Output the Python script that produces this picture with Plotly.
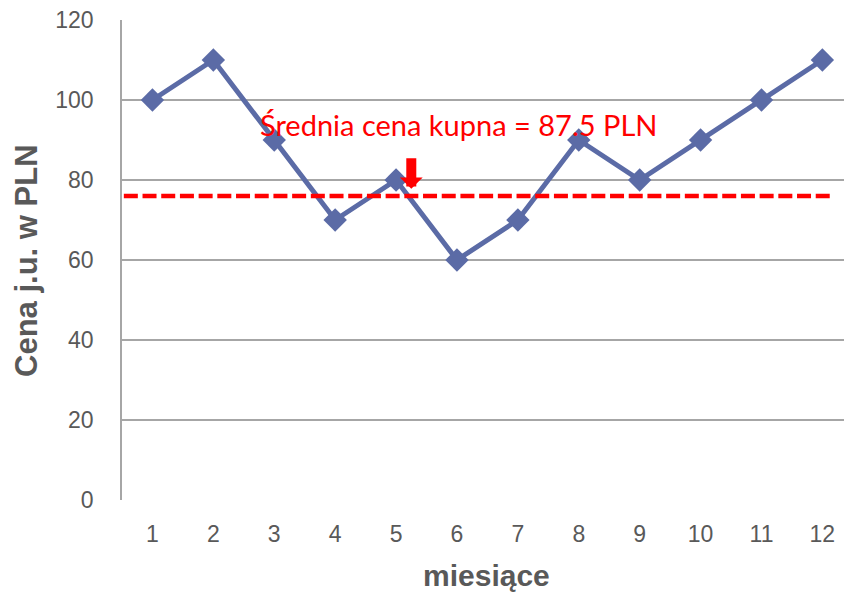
import plotly.graph_objects as go

months = list(range(1, 13))
prices = [100, 110, 90, 70, 80, 60, 70, 90, 80, 90, 100, 110]
avg_line_value = 76
avg_label = "Średnia cena kupna = 87.5 PLN"
y_ticks = [0, 20, 40, 60, 80, 100, 120]
x_title = "miesiące"
y_title = "Cena j.u. w PLN"

line_color = "#5b6ba6"
grid_color = "#a6a6a6"
tick_color = "#595959"

fig = go.Figure()
fig.add_trace(go.Scatter(
    x=months, y=prices, mode="lines+markers",
    line=dict(color=line_color, width=5),
    marker=dict(symbol="diamond", size=18, color=line_color),
    cliponaxis=False, showlegend=False,
))

fig.add_shape(type="line", xref="x", yref="y", x0=0.53, x1=12.16,
              y0=avg_line_value, y1=avg_line_value,
              line=dict(color="#ff0000", width=4.5, dash="14px,4.7px"))

fig.add_annotation(x=6.02, y=93.8, xref="x", yref="y", text=avg_label,
                   showarrow=False, font=dict(family="Lato", size=29, color="#ff0000"))
fig.add_annotation(x=5.25, y=77.8, ax=5.25, ay=85.8, xref="x", yref="y",
                   axref="x", ayref="y", text="", showarrow=True,
                   arrowhead=1, arrowwidth=10, arrowsize=0.38, arrowcolor="#ff0000")

fig.add_annotation(x=-0.133, y=0.5, xref="paper", yref="paper", text=f"<b>{y_title}</b>",
                   textangle=-90, showarrow=False, xanchor="center", yanchor="middle",
                   font=dict(family="Liberation Sans", size=31, color=tick_color))
fig.add_annotation(x=0.5055, y=-0.158, xref="paper", yref="paper", text=f"<b>{x_title}</b>",
                   showarrow=False, xanchor="center", yanchor="middle",
                   font=dict(family="Liberation Sans", size=30, color=tick_color))

fig.update_layout(
    width=844, height=594,
    margin=dict(l=122, r=0, t=20, b=94),
    paper_bgcolor="white", plot_bgcolor="white",
    xaxis=dict(range=[0.5, 12.355], tickvals=months, showgrid=False, zeroline=False,
               showline=False, ticks="", ticklabelstandoff=18,
               tickfont=dict(family="Liberation Sans", size=23, color=tick_color)),
    yaxis=dict(range=[0, 120], tickvals=y_ticks, showgrid=True, gridcolor=grid_color,
               gridwidth=1.5, zeroline=False, showline=True, linecolor=grid_color,
               linewidth=1.5, ticks="", ticklabelstandoff=22,
               tickfont=dict(family="Liberation Sans", size=23, color=tick_color)),
)

fig.write_html("out.html", config={"displayModeBar": False},
               post_script="document.body.style.margin='0';")
